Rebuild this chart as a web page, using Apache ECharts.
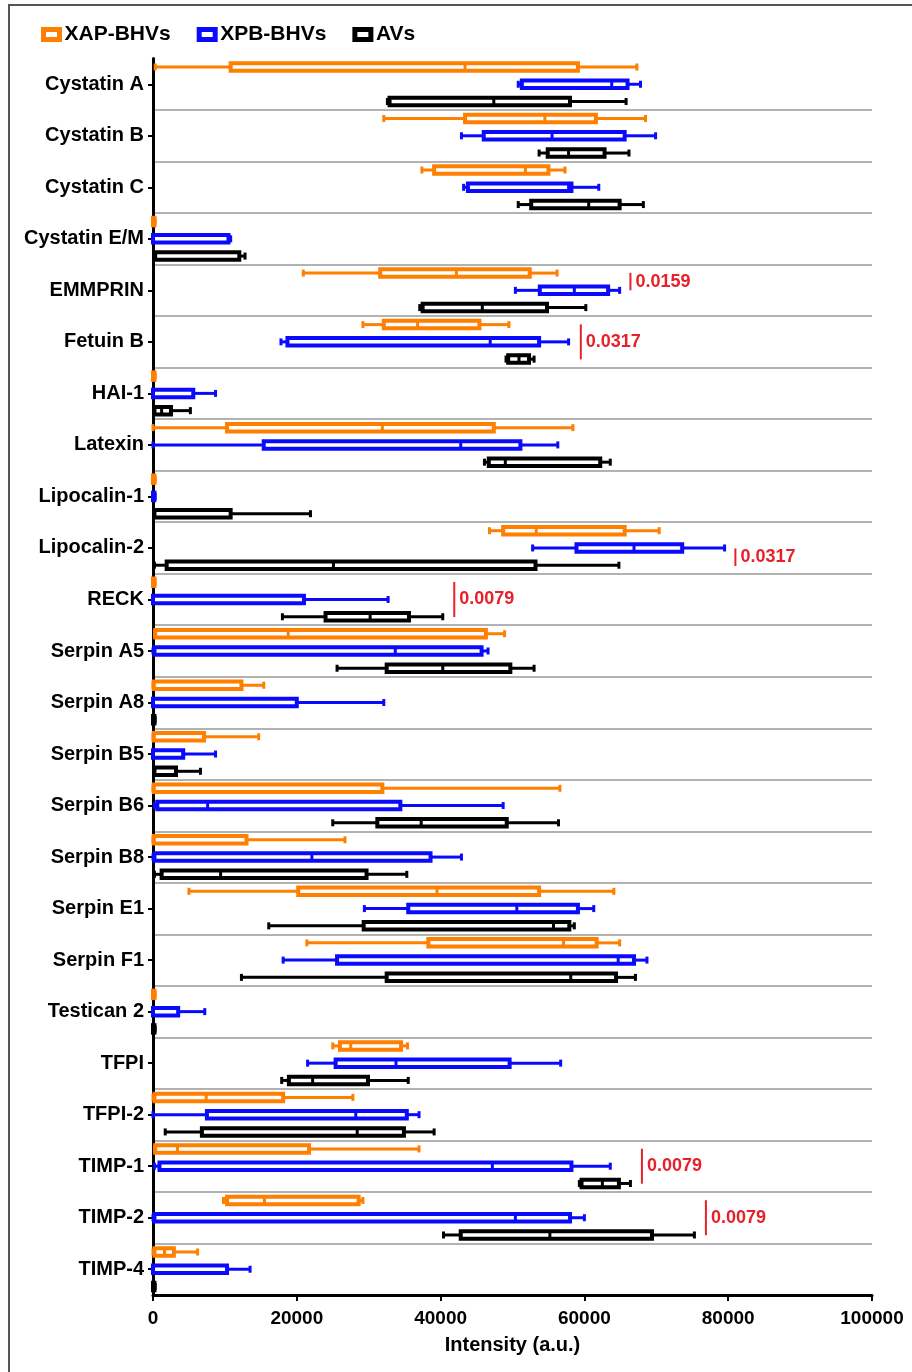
<!DOCTYPE html>
<html>
<head>
<meta charset="utf-8">
<script src="https://cdn.jsdelivr.net/npm/echarts@6/dist/echarts.min.js"></script>
<style>
  html, body { margin: 0; padding: 0; background: #fff; }
  #container { position: absolute; left: 0; top: 0; width: 912px; height: 1372px; }
  #frame { position: absolute; left: 8px; top: 4px; width: 930px; height: 1400px;
           border-left: 2px solid #555; border-top: 2px solid #555; pointer-events: none; }
</style>
</head>
<body>
<div id="container"></div>
<div id="frame"></div>
<script>
var categories = ['Cystatin A', 'Cystatin B', 'Cystatin C', 'Cystatin E/M', 'EMMPRIN', 'Fetuin B',
    'HAI-1', 'Latexin', 'Lipocalin-1', 'Lipocalin-2', 'RECK', 'Serpin A5', 'Serpin A8', 'Serpin B5',
    'Serpin B6', 'Serpin B8', 'Serpin E1', 'Serpin F1', 'Testican 2', 'TFPI', 'TFPI-2',
    'TIMP-1', 'TIMP-2', 'TIMP-4'];

// [min, Q1, median, Q3, max]
var xapBHVs = [
    [300, 10800, 43400, 59100, 67300],
    [32100, 43400, 54500, 61600, 68500],
    [37400, 39100, 51800, 55000, 57300],
    [0, 0, 100, 200, 300],
    [20900, 31600, 42200, 52400, 56200],
    [29200, 32100, 36800, 45400, 49500],
    [0, 0, 100, 200, 300],
    [0, 10300, 31900, 47400, 58400],
    [0, 0, 100, 200, 300],
    [46800, 48700, 53300, 65600, 70400],
    [0, 0, 100, 200, 300],
    [200, 300, 18800, 46300, 48900],
    [0, 100, 100, 12300, 15400],
    [0, 100, 100, 7100, 14700],
    [0, 100, 100, 31900, 56600],
    [0, 100, 100, 13000, 26700],
    [5000, 20200, 39500, 53700, 64100],
    [21400, 38300, 57100, 61700, 64900],
    [0, 0, 100, 200, 300],
    [25000, 26000, 27500, 34500, 35400],
    [0, 200, 7400, 18100, 27800],
    [200, 300, 3400, 21700, 37000],
    [9800, 10300, 15500, 28600, 29200],
    [0, 200, 1600, 2900, 6200]
];

var xpbBHVs = [
    [50800, 51300, 63800, 66000, 67800],
    [42900, 46000, 55500, 65600, 69900],
    [43200, 43800, 57800, 58200, 62000],
    [0, 0, 0, 10500, 10800],
    [50400, 53800, 58600, 63300, 64900],
    [17800, 18700, 46900, 53700, 57800],
    [0, 0, 0, 5600, 8700],
    [0, 15400, 42800, 51100, 56300],
    [0, 0, 100, 200, 300],
    [52800, 58900, 66900, 73600, 79500],
    [0, 0, 0, 21000, 32700],
    [0, 200, 33700, 45700, 46600],
    [0, 0, 0, 20000, 32100],
    [0, 0, 0, 4200, 8700],
    [200, 600, 7600, 34400, 48700],
    [0, 200, 22100, 38600, 42900],
    [29400, 35500, 50600, 59100, 61300],
    [18100, 25600, 64700, 66900, 68700],
    [0, 0, 0, 3500, 7200],
    [21500, 25400, 33800, 49600, 56700],
    [0, 7500, 28200, 35300, 37000],
    [200, 900, 47200, 58200, 63600],
    [0, 200, 50400, 58000, 60000],
    [0, 0, 0, 10300, 13500]
];

var avs = [
    [32600, 32900, 47400, 58000, 65800],
    [53700, 54900, 57800, 62800, 66200],
    [50800, 52600, 60600, 64900, 68200],
    [200, 300, 300, 12000, 12800],
    [37100, 37500, 45800, 54800, 60200],
    [49100, 49400, 50900, 52300, 53000],
    [200, 200, 1200, 2500, 5200],
    [46100, 46700, 49000, 62200, 63600],
    [200, 200, 200, 10800, 21900],
    [200, 1900, 25100, 53200, 64800],
    [18000, 24000, 30200, 35600, 40300],
    [25600, 32500, 40300, 49700, 53000],
    [0, 0, 100, 200, 300],
    [200, 200, 200, 3200, 6600],
    [25000, 31200, 37300, 49200, 56400],
    [200, 1200, 9400, 29700, 35300],
    [16100, 29300, 55700, 57900, 58600],
    [12300, 32500, 58100, 64400, 67100],
    [0, 0, 100, 200, 300],
    [17900, 18900, 22200, 29900, 35500],
    [1700, 6800, 28400, 34900, 39100],
    [59300, 59600, 62500, 64800, 66400],
    [40400, 42800, 55200, 69400, 75300],
    [0, 0, 100, 200, 300]
];

// p-value annotations
var pCategories = ['EMMPRIN', 'Fetuin B', 'Lipocalin-2', 'RECK', 'TIMP-1', 'TIMP-2'];
var pPositions = [66400, 59500, 81000, 41900, 68000, 76900];
var pLabels = ['0.0159', '0.0317', '0.0317', '0.0079', '0.0079', '0.0079'];
var pShift = [-0.17, 0, 0.18, 0, 0, 0];
var pHalf = [0.17, 0.34, 0.17, 0.34, 0.34, 0.34];

var seriesNames = ['XAP-BHVs', 'XPB-BHVs', 'AVs'];
var seriesColors = ['#ff7f00', '#0a0aff', '#000000'];
var seriesShift = [-0.335, 0, 0.335];

var dom = document.getElementById('container');
var myChart = echarts.init(dom);

function boxRenderer(shift, color) {
    return function (params, api) {
        var cat = api.value(0);
        var band = api.size([0, 1])[1];
        var y = api.coord([0, cat])[1] + shift * band;
        var xs = [];
        for (var k = 1; k <= 5; k++) {
            xs.push(api.coord([api.value(k), cat])[0]);
        }
        var bh = 7.5, cap = 3.5;
        var line = { stroke: color, lineWidth: 3 };
        return {
            type: 'group',
            children: [
                { type: 'line', shape: { x1: xs[0], y1: y, x2: xs[1], y2: y }, style: line },
                { type: 'line', shape: { x1: xs[3], y1: y, x2: xs[4], y2: y }, style: line },
                { type: 'line', shape: { x1: xs[0], y1: y - cap, x2: xs[0], y2: y + cap }, style: line },
                { type: 'line', shape: { x1: xs[4], y1: y - cap, x2: xs[4], y2: y + cap }, style: line },
                { type: 'rect', shape: { x: xs[1], y: y - bh / 2, width: xs[3] - xs[1], height: bh },
                  style: { fill: '#fff', stroke: color, lineWidth: 4 } },
                { type: 'line', shape: { x1: xs[2], y1: y - bh / 2, x2: xs[2], y2: y + bh / 2 }, style: line }
            ]
        };
    };
}

var allData = [xapBHVs, xpbBHVs, avs];
var series = [];
for (var s = 0; s < 3; s++) {
    series.push({
        name: seriesNames[s],
        type: 'custom',
        renderItem: boxRenderer(seriesShift[s], seriesColors[s]),
        encode: { x: [1, 2, 3, 4, 5], y: 0 },
        itemStyle: { color: seriesColors[s] },
        data: allData[s].map(function (d, i) { return [i].concat(d); }),
        z: 3
    });
}

series.push({
    name: 'p',
    type: 'custom',
    renderItem: function (params, api) {
        var i = params.dataIndex;
        var cat = api.value(0);
        var band = api.size([0, 1])[1];
        var pt = api.coord([api.value(1), cat]);
        var y = pt[1] + pShift[i] * band;
        var h = pHalf[i] * band;
        return {
            type: 'group',
            children: [
                { type: 'line', shape: { x1: pt[0], y1: y - h, x2: pt[0], y2: y + h },
                  style: { stroke: '#e8202a', lineWidth: 2 } },
                { type: 'text', x: pt[0] + 5, y: y,
                  style: { text: pLabels[i], fill: '#e8202a', font: 'bold 18px "Liberation Sans", Arial, sans-serif',
                           verticalAlign: 'middle', align: 'left' } }
            ]
        };
    },
    encode: { x: 1, y: 0 },
    data: pCategories.map(function (c, i) { return [categories.indexOf(c), pPositions[i]]; }),
    z: 4
});

option = {
    animation: false,
    textStyle: { fontFamily: '"Liberation Sans", Arial, sans-serif' },
    legend: {
        left: 36,
        top: 19,
        itemWidth: 16,
        itemHeight: 10,
        itemGap: 26,
        textStyle: { fontSize: 21, fontWeight: 'bold', color: '#000' },
        data: seriesNames.map(function (n, i) {
            return { name: n, icon: 'rect',
                     itemStyle: { color: '#fff', borderColor: seriesColors[i], borderWidth: 5 } };
        })
    },
    grid: { left: 153, right: 40, top: 58.5, bottom: 77, containLabel: false },
    xAxis: {
        type: 'value',
        min: 0,
        max: 100000,
        interval: 20000,
        axisLine: { show: true, lineStyle: { color: '#000', width: 3 } },
        axisTick: { show: true, length: 6, lineStyle: { color: '#000', width: 2 } },
        axisLabel: { fontSize: 19, fontWeight: 'bold', color: '#000', margin: 14,
                     formatter: function (v) { return String(v); } },
        splitLine: { show: false },
        name: 'Intensity (a.u.)',
        nameLocation: 'middle',
        nameGap: 40,
        nameTextStyle: { fontSize: 20, fontWeight: 'bold', color: '#000' }
    },
    yAxis: {
        type: 'category',
        data: categories,
        inverse: true,
        axisLine: { show: true, lineStyle: { color: '#000', width: 3 } },
        axisTick: { show: true, alignWithLabel: true, length: 5, lineStyle: { color: '#000', width: 2 } },
        axisLabel: { fontSize: 20, fontWeight: 'bold', color: '#000', margin: 9 },
        splitLine: {
            show: true,
            interval: function (idx) { return idx > 0; },
            lineStyle: { color: '#999', width: 1.5 }
        }
    },
    series: series
};

if (option && typeof option === "object") {
    myChart.setOption(option, true);
}
</script>
</body>
</html>
